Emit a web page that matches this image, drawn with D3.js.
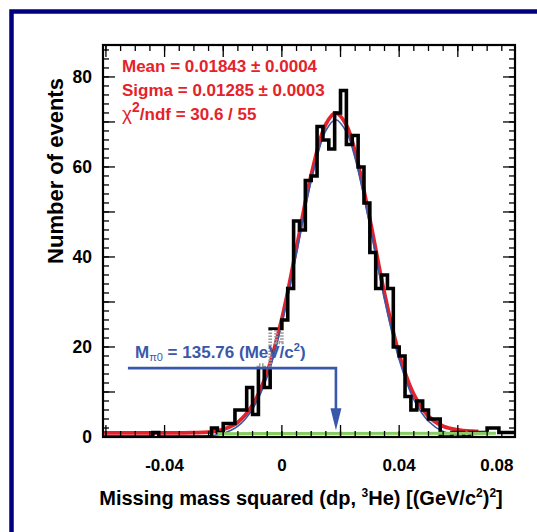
<!DOCTYPE html>
<html>
<head>
<meta charset="utf-8">
<script src="https://cdn.jsdelivr.net/npm/d3@7"></script>
<style>
body { margin: 0; background: #fff; }
text { font-family: "Liberation Sans", Arial, Helvetica, sans-serif; font-weight: bold; }
</style>
</head>
<body>
<svg id="chart" width="537" height="532"></svg>
<script>
// histogram: 0.002 wide bins starting at -0.062
var histStart = -0.062
var binWidth = 0.002
var counts = [
  0, 0, 0, 0, 0, 0, 0, 0, 0, 1,
  0, 0, 0, 0, 0, 0, 0, 0, 0,
  2, 1, 3, 3, 6, 6, 11, 5, 16, 11, 24, 21,
  26, 33, 48, 46, 57, 58, 69, 66, 64, 72,
  77, 65, 67, 60, 52, 41, 33, 36, 33, 20,
  18, 9, 6, 8, 6, 4, 4, 0, 0, 1,
  1, 0, 1, 1, 1, 2, 2, 1, 1, 1
]

// fit curves
var redX = [-0.061, -0.05, -0.04, -0.03, -0.025, -0.02, -0.015, -0.01, -0.005, 0, 0.005, 0.01, 0.015, 0.0184, 0.022, 0.025, 0.03, 0.035, 0.04, 0.045, 0.05, 0.055, 0.06, 0.065, 0.067]
var redY = [0.9, 0.9, 0.9, 0.96, 1.1, 1.7, 3.3, 7.1, 14.4, 26.3, 42.1, 58.2, 69.5, 72, 69.3, 63.3, 48.4, 31.9, 18.4, 9.5, 4.6, 2.4, 1.6, 1.3, 1.25]
var blueX = [-0.029, -0.025, -0.02, -0.015, -0.01, -0.005, 0, 0.005, 0.01, 0.015, 0.0184, 0.022, 0.025, 0.03, 0.035, 0.04, 0.045, 0.05, 0.055, 0.06, 0.0676]
var blueY = [0.09, 0.24, 0.8, 2.4, 6.2, 13.4, 25.2, 40.9, 56.9, 68.1, 70.5, 67.8, 61.9, 47, 30.6, 17.2, 8.3, 3.5, 1.2, 0.37, 0.05]
var greenX = [-0.022, 0.073]
var greenY = [0.75, 0.85]

var xLabels = [-0.04, 0, 0.04, 0.08]
var xMajor = [-0.06, -0.04, -0.02, 0, 0.02, 0.04, 0.06]
var yLabels = [0, 20, 40, 60, 80]
var yMajor = [0, 10, 20, 30, 40, 50, 60, 70, 80]

var mean = 0.01843
var arrowLevel = 15.3   // horizontal arrow line, in events
var arrowStart = -0.0525
var arrowTip = 1.5

var red = '#e5222a'
var blue = '#3a58aa'
var green = '#86cc63'

var fL = 103, fR = 515, fT = 45, fB = 437

var svg = d3.select('#chart')

// outer frame of the figure
svg.append('rect')
  .attr('x', 11.5).attr('y', 11.5)
  .attr('width', 600).attr('height', 600)
  .attr('fill', 'none').attr('stroke', '#00007f').attr('stroke-width', 4.5)

var x = d3.scaleLinear().domain([-0.061, 0.0795]).range([fL, fR])
var y = d3.scaleLinear().domain([0, 87.1]).range([fB, fT])

var defs = svg.append('defs')
defs.append('clipPath').attr('id', 'plot')
  .append('rect').attr('x', fL).attr('y', fT).attr('width', fR - fL).attr('height', fB - fT)

// label box where the histogram shows through hatched
var box = {x0: 128, x1: 306, y0: 330, y1: 369}
defs.append('clipPath').attr('id', 'outside')
  .append('path')
  .attr('clip-rule', 'evenodd')
  .attr('d', 'M' + fL + ',' + fT + 'H' + fR + 'V' + fB + 'H' + fL + 'Z' +
    'M' + box.x0 + ',' + box.y0 + 'H' + box.x1 + 'V' + box.y1 + 'H' + box.x0 + 'Z')
defs.append('clipPath').attr('id', 'inside')
  .append('rect').attr('x', box.x0).attr('y', box.y0).attr('width', box.x1 - box.x0).attr('height', box.y1 - box.y0)

var plot = svg.append('g').attr('clip-path', 'url(#plot)')

var curve = d3.line()
  .x(function(d){ return x(d[0]) })
  .y(function(d){ return y(d[1]) })
  .curve(d3.curveCatmullRom)

plot.append('path')
  .attr('d', curve(d3.zip(redX, redY)))
  .attr('fill', 'none').attr('stroke', red).attr('stroke-width', 3.8)

plot.append('path')
  .attr('d', curve(d3.zip(blueX, blueY)))
  .attr('fill', 'none').attr('stroke', blue).attr('stroke-width', 1.6)

// histogram outline as steps
var steps = []
counts.forEach(function(c, i){
  var lo = histStart + i * binWidth
  steps.push([lo, c])
  steps.push([lo + binWidth, c])
})
var stepLine = d3.line()
  .x(function(d){ return x(d[0]) })
  .y(function(d){ return y(d[1]) })

plot.append('path')
  .attr('d', stepLine(steps))
  .attr('clip-path', 'url(#outside)')
  .attr('fill', 'none').attr('stroke', '#000').attr('stroke-width', 3.6)
  .attr('stroke-linejoin', 'miter')

plot.append('path')
  .attr('d', stepLine(steps))
  .attr('clip-path', 'url(#inside)')
  .attr('fill', 'none').attr('stroke', '#999').attr('stroke-width', 3.6)
  .attr('stroke-dasharray', '1.5,1.5')

plot.append('path')
  .attr('d', curve(d3.zip(greenX, greenY)))
  .attr('fill', 'none').attr('stroke', green).attr('stroke-width', 3)

// ticks on all four sides, pointing inwards
function xTicks(g, vals, len, pos, dir) {
  g.selectAll(null).data(vals).enter().append('line')
    .attr('x1', function(d){ return x(d) }).attr('x2', function(d){ return x(d) })
    .attr('y1', pos).attr('y2', pos + dir * len)
    .attr('stroke', '#000').attr('stroke-width', 1.3)
}
function yTicks(g, vals, len, pos, dir) {
  g.selectAll(null).data(vals).enter().append('line')
    .attr('y1', function(d){ return y(d) }).attr('y2', function(d){ return y(d) })
    .attr('x1', pos).attr('x2', pos + dir * len)
    .attr('stroke', '#000').attr('stroke-width', 1.3)
}
var xMinor = x.ticks(30).filter(function(d){ return d > -0.061 && d < 0.0795 })
var yMinor = d3.range(0, 87, 2)
var axes = svg.append('g')
xTicks(axes, xMinor, 6, fB, -1)
xTicks(axes, xMajor, 12, fB, -1)
xTicks(axes, xMinor, 6, fT, 1)
xTicks(axes, xMajor, 12, fT, 1)
yTicks(axes, yMinor, 6, fL, 1)
yTicks(axes, yMajor, 12, fL, 1)
yTicks(axes, yMinor, 6, fR, -1)
yTicks(axes, yMajor, 12, fR, -1)

axes.append('rect')
  .attr('x', fL).attr('y', fT).attr('width', fR - fL).attr('height', fB - fT)
  .attr('fill', 'none').attr('stroke', '#000').attr('stroke-width', 2.2)

// tick labels
svg.append('g').selectAll('text').data(xLabels).enter().append('text')
  .attr('x', function(d, i){ return i == xLabels.length - 1 ? x(d) - 3 : x(d) })
  .attr('y', 471)
  .attr('text-anchor', function(d, i){ return i == xLabels.length - 1 ? 'end' : 'middle' })
  .attr('font-size', 17)
  .text(function(d){ return d == 0 ? '0' : String(d) })

svg.append('g').selectAll('text').data(yLabels).enter().append('text')
  .attr('x', 92)
  .attr('y', function(d){ return y(d) })
  .attr('dy', '0.36em')
  .attr('text-anchor', 'end')
  .attr('font-size', 17.5)
  .text(function(d){ return d })

// axis titles
var xt = svg.append('text').attr('x', 301).attr('y', 505).attr('text-anchor', 'middle').attr('font-size', 20)
xt.append('tspan').text('Missing mass squared (dp, ')
xt.append('tspan').attr('font-size', 12).attr('dy', -8).text('3')
xt.append('tspan').attr('dy', 8).text('He) [(GeV/c')
xt.append('tspan').attr('font-size', 12).attr('dy', -8).text('2')
xt.append('tspan').attr('dy', 8).text(')')
xt.append('tspan').attr('font-size', 12).attr('dy', -8).text('2')
xt.append('tspan').attr('dy', 8).text(']')

svg.append('text')
  .attr('transform', 'translate(63,171) rotate(-90)')
  .attr('text-anchor', 'middle')
  .attr('font-size', 22)
  .text('Number of events')

// fit results
svg.append('text').attr('x', 122).attr('y', 72).attr('font-size', 17).attr('fill', red)
  .text('Mean = 0.01843 \u00b1 0.0004')
svg.append('text').attr('x', 122).attr('y', 96).attr('font-size', 17).attr('fill', red)
  .text('Sigma = 0.01285 \u00b1 0.0003')
var chi = svg.append('text').attr('x', 122).attr('y', 120).attr('font-size', 17).attr('fill', red)
chi.append('tspan').attr('font-weight', 'normal').attr('font-size', 19).text('\u03c7')
chi.append('tspan').attr('font-size', 14).attr('dy', -8).text('2')
chi.append('tspan').attr('dy', 8).text('/ndf = 30.6 / 55')

// pi0 mass arrow
var ax = x(mean)
svg.append('path')
  .attr('d', 'M' + x(arrowStart) + ',' + y(arrowLevel) + 'H' + ax + 'V' + (y(arrowTip) - 16))
  .attr('fill', 'none').attr('stroke', blue).attr('stroke-width', 2.6)
svg.append('path')
  .attr('d', 'M' + (ax - 5.5) + ',' + (y(arrowTip) - 22) + 'L' + (ax + 5.5) + ',' + (y(arrowTip) - 22) +
    'L' + ax + ',' + y(arrowTip) + 'Z')
  .attr('fill', blue)

var ml = svg.append('text').attr('x', 135).attr('y', 358).attr('font-size', 17).attr('fill', blue)
ml.append('tspan').text('M')
ml.append('tspan').attr('font-size', 11).attr('dy', 3).attr('font-weight', 'normal').text('\u03c00')
ml.append('tspan').attr('dy', -3).text(' = 135.76 (MeV/c')
ml.append('tspan').attr('font-size', 11).attr('dy', -7).text('2')
ml.append('tspan').attr('dy', 7).text(')')
</script>
</body>
</html>
